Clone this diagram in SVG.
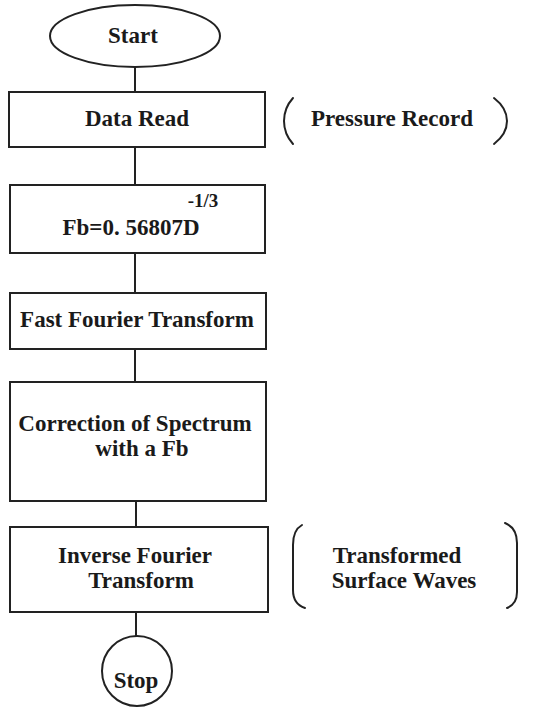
<svg xmlns="http://www.w3.org/2000/svg" width="533" height="709" viewBox="0 0 533 709">
<style>
.s{fill:#fff;stroke:#222;stroke-width:2}
.b{fill:none;stroke:#222;stroke-width:2;stroke-linecap:round}
.c line{stroke:#222;stroke-width:2}
text{font-family:"Liberation Serif","Times New Roman",serif;font-weight:bold;font-size:23px;fill:#1a1a1a;text-anchor:middle}
</style>
<rect width="533" height="709" fill="#fff"/>
<g class="c" id="connectors">
<line x1="135" y1="67" x2="135" y2="92"/>
<line x1="135" y1="147" x2="135" y2="185"/>
<line x1="135" y1="253" x2="135" y2="293"/>
<line x1="135" y1="349" x2="135" y2="382"/>
<line x1="136" y1="501" x2="136" y2="527"/>
<line x1="136" y1="612" x2="136" y2="637"/>
</g>
<g id="start"><ellipse class="s" cx="135" cy="36" rx="85" ry="31"/><text x="133" y="43">Start</text></g>
<g id="dataread"><rect class="s" x="9" y="92" width="256" height="55"/><text x="137" y="126">Data Read</text></g>
<g id="pressure"><path class="b" d="M293 98 Q284 108 284 121 Q284 134 293 144"/><path class="b" d="M494 98 Q507 108 507 121 Q507 134 494 144"/><text x="392" y="126">Pressure Record</text></g>
<g id="fb"><rect class="s" x="10" y="185" width="255" height="68"/><text x="131" y="235">Fb=0. 56807D</text><text x="203" y="207" style="font-size:19px">-1/3</text></g>
<g id="fft"><rect class="s" x="10" y="293" width="256" height="56"/><text x="137" y="327">Fast Fourier Transform</text></g>
<g id="correction"><rect class="s" x="10" y="382" width="256" height="119"/><text x="135" y="431">Correction of Spectrum</text><text x="142" y="456">with a Fb</text></g>
<g id="inverse"><rect class="s" x="10" y="527" width="258" height="85"/><text x="135" y="563">Inverse Fourier</text><text x="141" y="588">Transform</text></g>
<g id="waves"><path class="b" d="M302 525 Q293 530 293 545 L293 590 Q293 604 305 608"/><path class="b" d="M505 523 Q517 528 517 543 L517 592 Q517 604 507 608"/><text x="397" y="563">Transformed</text><text x="404" y="588">Surface Waves</text></g>
<g id="stop"><circle class="s" cx="137" cy="671" r="35"/><text x="136" y="688">Stop</text></g>
</svg>
